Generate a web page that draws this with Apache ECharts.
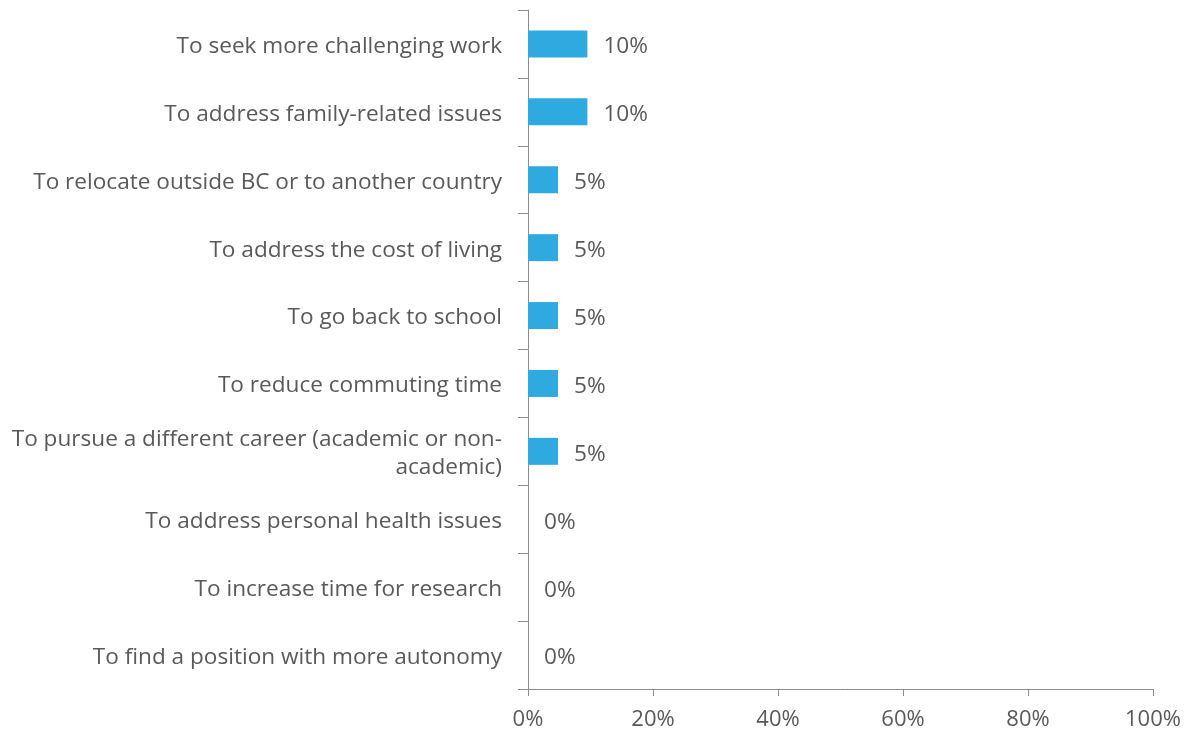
<!DOCTYPE html>
<html>
<head>
<meta charset="utf-8">
<script src="https://cdn.jsdelivr.net/npm/echarts@6/dist/echarts.min.js"></script>
<style>
  html, body { margin: 0; padding: 0; background: #fff; }
  #chart { width: 1184px; height: 731px; }
</style>
</head>
<body>
<div id="chart"></div>
<script>
// reasons, top to bottom
const reasons = [
  'To seek more challenging work',
  'To address family-related issues',
  'To relocate outside BC or to another country',
  'To address the cost of living',
  'To go back to school',
  'To reduce commuting time',
  'To pursue a different career (academic or non-\nacademic)',
  'To address personal health issues',
  'To increase time for research',
  'To find a position with more autonomy'
]
// share of respondents, %
const shares = [9.5, 9.5, 4.8, 4.8, 4.8, 4.8, 4.8, 0, 0, 0]
const xTicks = [0, 20, 40, 60, 80, 100]

const textColor = '#595959'
const axisColor = '#8c8c8c'
const font = 'Open Sans'

const chart = echarts.init(document.getElementById('chart'))
chart.setOption({
  animation: false,
  grid: { left: 528, right: 31, top: 10, bottom: 41, containLabel: false },
  xAxis: {
    type: 'value',
    min: xTicks[0],
    max: xTicks[xTicks.length - 1],
    interval: 20,
    splitLine: { show: false },
    axisLine: { show: true, lineStyle: { color: axisColor } },
    axisTick: { show: true, length: 7, lineStyle: { color: axisColor } },
    axisLabel: {
      color: textColor, fontSize: 22, fontFamily: font, margin: 20,
      formatter: v => v + '%'
    }
  },
  yAxis: {
    type: 'category',
    inverse: true,
    data: reasons,
    axisLine: { show: true, lineStyle: { color: axisColor } },
    axisTick: { show: true, length: 10, alignWithLabel: false, lineStyle: { color: axisColor } },
    axisLabel: {
      color: textColor, fontSize: 22.6, fontFamily: font, margin: 26,
      lineHeight: 28, align: 'right',
      formatter: v => v.split('\n').map(s => '{t|' + s + '}').join('\n'),
      rich: {
        t: { fontSize: 22.6, fontFamily: font, color: textColor, lineHeight: 28, padding: [5, 0, 0, 0] }
      }
    }
  },
  series: [{
    type: 'bar',
    data: shares,
    barWidth: 27,
    itemStyle: { color: '#2eaae1' },
    label: {
      show: true,
      position: 'right',
      distance: 16,
      offset: [0, 3],
      color: textColor,
      fontSize: 22.6,
      fontFamily: font,
      formatter: p => Math.round(p.value) + '%'
    }
  }]
})
</script>
</body>
</html>
